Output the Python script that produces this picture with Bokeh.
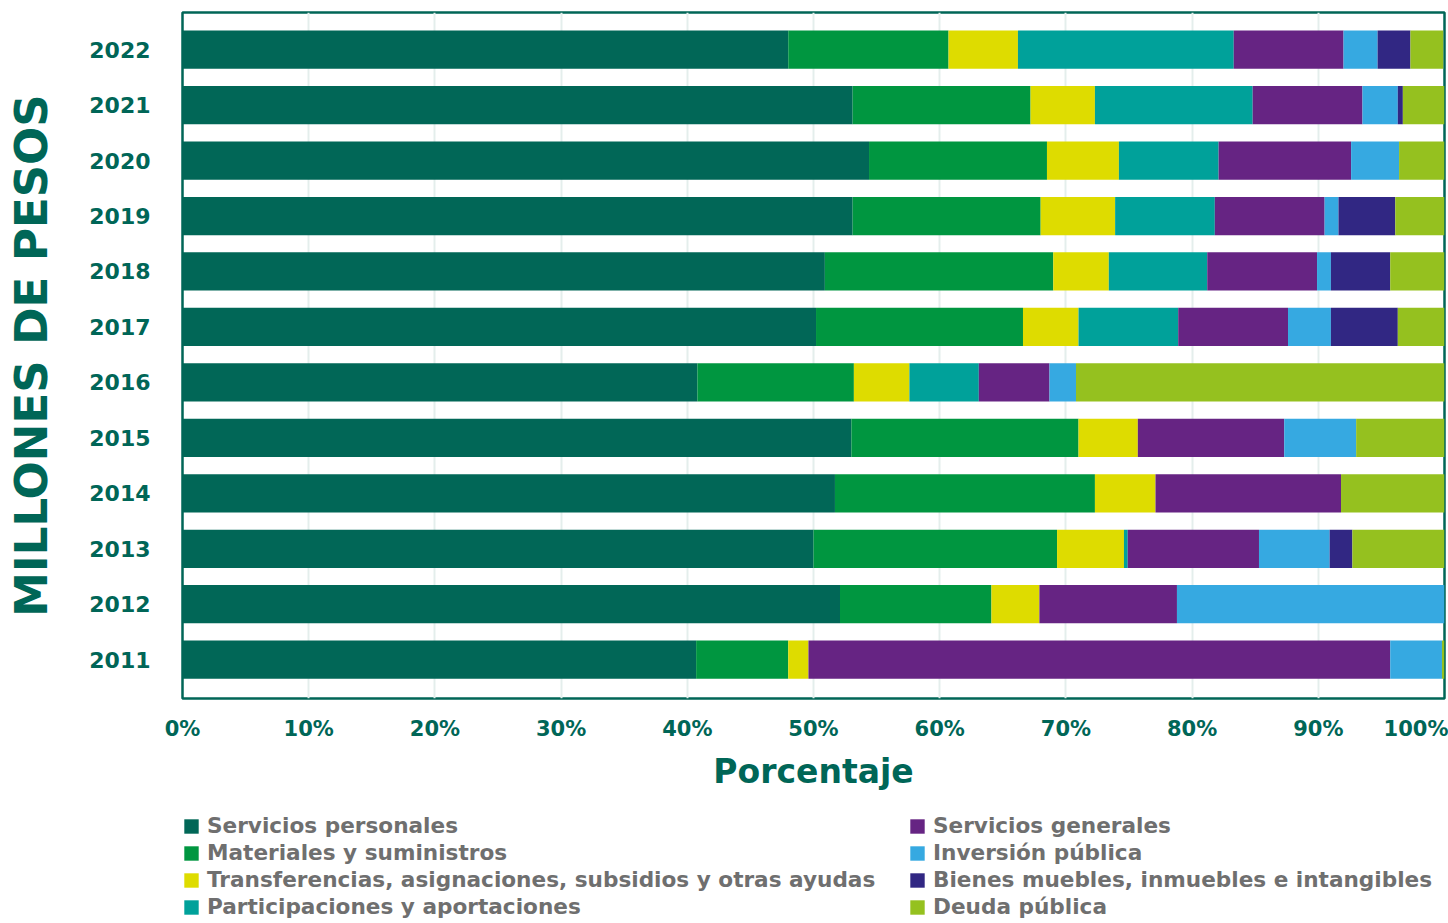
from bokeh.plotting import figure
from bokeh.layouts import column
from bokeh.models import (ColumnDataSource, Range1d, FixedTicker, Legend, LegendItem)
from bokeh.embed import file_html
from bokeh.resources import INLINE

years = [2011, 2012, 2013, 2014, 2015, 2016, 2017, 2018, 2019, 2020, 2021, 2022]

categories = [
    "Servicios personales",
    "Materiales y suministros",
    "Transferencias, asignaciones, subsidios y otras ayudas",
    "Participaciones y aportaciones",
    "Servicios generales",
    "Inversión pública",
    "Bienes muebles, inmuebles e intangibles",
    "Deuda pública",
]

# percentages per year (2011 ... 2022)
servicios_personales = [40.7, 52.1, 50.0, 51.7, 53.0, 40.8, 50.2, 50.9, 53.1, 54.4, 53.1, 48.0]
materiales_suministros = [7.3, 12.0, 19.3, 20.6, 18.0, 12.4, 16.4, 18.1, 14.9, 14.1, 14.1, 12.7]
transferencias = [1.6, 3.8, 5.3, 4.8, 4.7, 4.4, 4.4, 4.4, 5.9, 5.7, 5.1, 5.5]
participaciones = [0.0, 0.0, 0.3, 0.0, 0.0, 5.5, 7.9, 7.8, 7.9, 7.9, 12.5, 17.1]
servicios_generales = [46.1, 10.9, 10.4, 14.7, 11.6, 5.6, 8.7, 8.7, 8.7, 10.5, 8.7, 8.7]
inversion_publica = [4.1, 21.2, 5.6, 0.0, 5.7, 2.1, 3.4, 1.1, 1.1, 3.8, 2.8, 2.7]
bienes_muebles = [0.0, 0.0, 1.8, 0.0, 0.0, 0.0, 5.3, 4.7, 4.5, 0.0, 0.4, 2.6]
deuda_publica = [0.2, 0.0, 7.3, 8.2, 7.0, 29.2, 3.7, 4.3, 3.9, 3.6, 3.3, 2.6]

x_ticks = [0, 10, 20, 30, 40, 50, 60, 70, 80, 90, 100]
x_tick_labels = [f"{t}%" for t in x_ticks]

colors = ["#016757", "#009640", "#DEDC00", "#00A19A",
          "#662483", "#36A9E1", "#312783", "#95C11F"]
keys = ["sp", "ms", "tr", "pa", "sg", "ip", "bm", "dp"]
series = [servicios_personales, materiales_suministros, transferencias, participaciones,
          servicios_generales, inversion_publica, bienes_muebles, deuda_publica]

data = {"year": years}
for k, s in zip(keys, series):
    data[k] = s
source = ColumnDataSource(data)

TEXT = "#006657"
FONT = "DejaVu Sans"

p = figure(width=1448, height=803, output_backend="svg", toolbar_location=None,
           x_range=Range1d(0, 100), y_range=Range1d(2010.30, 2022.67),
           min_border_left=182, min_border_right=4, min_border_top=12,
           min_border_bottom=105)

renderers = p.hbar_stack(keys, y="year", height=0.69, color=colors,
                         line_color=None, source=source)

p.outline_line_color = TEXT
p.outline_line_width = 2.5

p.ygrid.grid_line_color = None
p.xgrid.grid_line_color = "#E4EEEC"
p.xgrid.grid_line_width = 2
p.xgrid.ticker = FixedTicker(ticks=x_ticks)

# x axis
xa = p.xaxis[0]
xa.ticker = FixedTicker(ticks=x_ticks)
xa.major_label_overrides = {t: l for t, l in zip(x_ticks, x_tick_labels)}
xa.axis_line_color = None
xa.major_tick_line_color = None
xa.minor_tick_line_color = None
xa.major_label_text_font = FONT
xa.major_label_text_font_style = "bold"
xa.major_label_text_font_size = "21px"
xa.major_label_text_color = TEXT
xa.major_label_text_align = "right"
xa.major_label_standoff = 12
xa.axis_label = "Porcentaje"
xa.axis_label_text_font = FONT
xa.axis_label_text_font_style = "bold"
xa.axis_label_text_font_size = "33px"
xa.axis_label_text_color = TEXT
xa.axis_label_standoff = 8

# y axis
ya = p.yaxis[0]
ya.ticker = FixedTicker(ticks=years)
ya.major_label_overrides = {y: str(y) for y in years}
ya.axis_line_color = None
ya.major_tick_line_color = None
ya.minor_tick_line_color = None
ya.major_label_text_font = FONT
ya.major_label_text_font_style = "bold"
ya.major_label_text_font_size = "22px"
ya.major_label_text_color = TEXT
ya.major_label_standoff = 26
ya.axis_label = "MILLONES DE PESOS"
ya.axis_label_text_font = FONT
ya.axis_label_text_font_style = "bold"
ya.axis_label_text_font_size = "45px"
ya.axis_label_text_color = TEXT
ya.axis_label_standoff = 28

# legend panel below the chart (its frame is aligned with the chart's frame)
pl = figure(width=1448, height=120, output_backend="svg", toolbar_location=None,
            x_range=Range1d(0, 100), y_range=Range1d(0, 1),
            x_axis_type=None, y_axis_type=None,
            min_border_left=182, min_border_right=4, min_border_top=0, min_border_bottom=0)
pl.outline_line_color = None
pl.grid.grid_line_color = None
pl.background_fill_color = None
pl.border_fill_color = None

# legend swatches: hidden copies of the stacked series (only their legend glyphs show)
swatches = pl.hbar_stack(keys, y="year", height=0.69, color=colors,
                         line_color=None, source=source)
for r in swatches:
    r.visible = False


def make_legend(idx, loc):
    items = [LegendItem(label=categories[i], renderers=[swatches[i]]) for i in idx]
    return Legend(items=items, location=loc, orientation="vertical",
                  padding=0, margin=0, spacing=2, click_policy="none",
                  glyph_width=18, glyph_height=18, label_standoff=7,
                  label_height=22,
                  label_text_font=FONT, label_text_font_style="bold",
                  label_text_font_size="21.6px", label_text_color="#6F6F6F",
                  border_line_color=None, background_fill_alpha=0)


pl.add_layout(make_legend([0, 1, 2, 3], (0, 4)), "center")
pl.add_layout(make_legend([4, 5, 6, 7], (726, 4)), "center")

layout = column(p, pl, spacing=0)
open("out.html", "w").write(file_html(layout, INLINE))
